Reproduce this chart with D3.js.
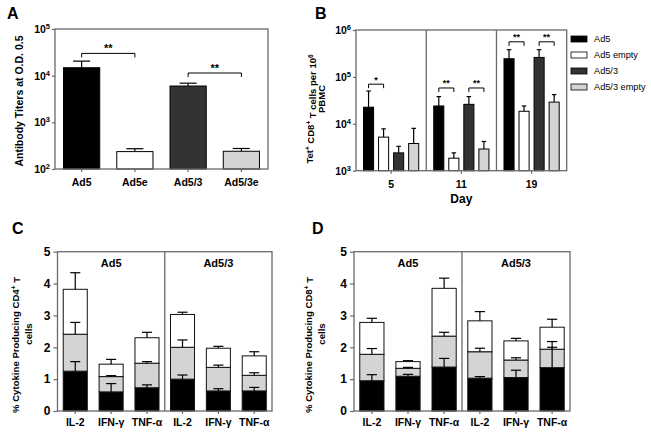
<!DOCTYPE html>
<html>
<head>
<meta charset="utf-8">
<script src="https://cdn.jsdelivr.net/npm/d3@7"></script>
<style>
  body{margin:0;background:#fff;}
  text{font-family:"Liberation Sans",Arial,Helvetica,sans-serif;fill:#000;}
</style>
</head>
<body>
<svg id="fig" width="651" height="434"></svg>
<script>
/* ---------- DATA ---------- */
/* A: antibody titers (mean, upper end of SEM bar) */
const titerGroups=["Ad5","Ad5e","Ad5/3","Ad5/3e"];
const titerMean=[14800,236,6000,240];
const titerUpper=[20500,272,6900,275];

/* B: tetramer+ CD8 T cells per 10^6 PBMC, rows = days */
const days=["5","11","19"];
const vectors=["Ad5","Ad5 empty","Ad5/3","Ad5/3 empty"];
const tetMean=[[22600,5200,2400,3800],[24000,1850,26000,2900],[244000,18500,260000,29000]];
const tetUpper=[[50000,7800,3300,8000],[38000,2400,38000,4200],[380000,24000,380000,42000]];

/* C/D: stacked cytokine producing cells, [vector][cytokine][segment] */
const cdGroups=["Ad5","Ad5/3"];
const cytokines=["IL-2","IFN-γ","TNF-α"];
const cd4Seg=[[[1.25,1.16,1.41],[0.60,0.48,0.39],[0.73,0.77,0.80]],
              [[1.00,1.00,1.03],[0.63,0.74,0.60],[0.63,0.49,0.61]]];
const cd4Sem=[[[0.30,0.37,0.52],[0.26,0.03,0.15],[0.09,0.05,0.17]],
              [[0.13,0.23,0.07],[0.07,0.07,0.06],[0.11,0.08,0.13]]];
const cd8Seg=[[[0.95,0.83,1.00],[1.09,0.25,0.21],[1.38,0.97,1.50]],
              [[1.03,0.83,0.97],[1.05,0.55,0.60],[1.36,0.58,0.69]]];
const cd8Sem=[[[0.19,0.18,0.13],[0.06,0.03,0.03],[0.27,0.12,0.32]],
              [[0.05,0.11,0.29],[0.23,0.07,0.08],[0.64,0.24,0.25]]];

/* ---------- STYLE ---------- */
const FILLS=["#000000","#ffffff","#333333","#d4d4d4"];
const SEGFILL=["#000000","#d4d4d4","#ffffff"];
const FRAME="#6a6a6a";
const FS=10.5;

const svg=d3.select("#fig");

function letter(x,y,t){
  svg.append("text").attr("x",x).attr("y",y).attr("font-size",16)
     .attr("font-weight","bold").text(t);
}
function errBar(g,cx,y0,y1,cap){
  g.append("line").attr("x1",cx).attr("x2",cx).attr("y1",y0).attr("y2",y1)
   .attr("stroke","#000").attr("stroke-width",1.2);
  g.append("line").attr("x1",cx-cap/2).attr("x2",cx+cap/2).attr("y1",y1).attr("y2",y1)
   .attr("stroke","#000").attr("stroke-width",1.2);
}
function bracket(g,x1,x2,y,label,fs){
  g.append("path").attr("d",`M${x1},${y+4}V${y}H${x2}V${y+4}`)
   .attr("fill","none").attr("stroke","#000").attr("stroke-width",1);
  g.append("text").attr("x",(x1+x2)/2).attr("y",y-1.5).attr("text-anchor","middle")
   .attr("font-size",fs).attr("font-weight","bold").text(label);
}
function styleAxis(ax){
  ax.select(".domain").remove();
  ax.selectAll(".tick line").attr("stroke",FRAME).attr("stroke-width",1.2);
  ax.selectAll("text").attr("font-size",FS).attr("font-weight","bold").attr("fill","#000");
}
function powLabels(ax){
  ax.selectAll(".tick text").each(function(d){
    const t=d3.select(this);
    t.text("10");
    t.append("tspan").attr("dy","-0.5em").attr("font-size",7.5)
     .text(Math.round(Math.log10(d)));
  });
}
function yTitle(x,y,fs,parts){
  const t=svg.append("text").attr("transform",`translate(${x},${y}) rotate(-90)`)
     .attr("text-anchor","middle").attr("font-size",fs).attr("font-weight","bold");
  parts.forEach(p=>{
    if(p.sup) t.append("tspan").attr("dy","-0.45em").attr("font-size",fs*0.68).text(p.sup);
    else t.append("tspan").attr("dy",p.back?"0.45em":0).text(p.t);
  });
}

/* ---------- A ---------- */
(function(){
  const L=55,R=268,T=29,B=169;
  const y=d3.scaleLog().domain([1e2,1e5]).range([B,T]);
  const x=d3.scaleBand().domain(titerGroups).range([L,R]).paddingInner(0.32).paddingOuter(0.16);
  const g=svg.append("g");

  titerGroups.forEach((k,i)=>{
    g.append("rect").attr("x",x(k)).attr("y",y(titerMean[i]))
     .attr("width",x.bandwidth()).attr("height",B-y(titerMean[i]))
     .attr("fill",FILLS[i]).attr("stroke","#000").attr("stroke-width",1);
    errBar(g,x(k)+x.bandwidth()/2,y(titerMean[i]),y(titerUpper[i]),x.bandwidth()*0.47);
  });

  g.append("rect").attr("x",L).attr("y",T).attr("width",R-L).attr("height",B-T)
   .attr("fill","none").attr("stroke",FRAME).attr("stroke-width",1.3);

  const ya=g.append("g").attr("transform",`translate(${L},0)`)
    .call(d3.axisLeft(y).tickValues([1e2,1e3,1e4,1e5]).tickSize(3).tickPadding(2));
  styleAxis(ya); powLabels(ya);
  const xa=g.append("g").attr("transform",`translate(0,${B})`)
    .call(d3.axisBottom(x).tickSize(3).tickPadding(7));
  styleAxis(xa);

  const c=k=>x(k)+x.bandwidth()/2;
  bracket(g,c("Ad5"),c("Ad5e"),y(30000),"**",11);
  bracket(g,c("Ad5/3"),c("Ad5/3e"),y(11400),"**",11);

  yTitle(23,101,10.5,[{t:"Antibody Titers at O.D. 0.5"}]);
  letter(7,19,"A");
})();

/* ---------- B ---------- */
(function(){
  const L=356,R=566.7,T=30,B=170.7;
  const y=d3.scaleLog().domain([1e3,1e6]).range([B,T]);
  const x0=d3.scaleBand().domain(days).range([L,R]);
  const x1=d3.scaleBand().domain(vectors).range([0,x0.bandwidth()]).paddingInner(0.33).paddingOuter(0.5);
  const g=svg.append("g");

  days.forEach((d,di)=>{
    vectors.forEach((v,vi)=>{
      const bx=x0(d)+x1(v);
      g.append("rect").attr("x",bx).attr("y",y(tetMean[di][vi]))
       .attr("width",x1.bandwidth()).attr("height",B-y(tetMean[di][vi]))
       .attr("fill",FILLS[vi]).attr("stroke","#000").attr("stroke-width",1);
      errBar(g,bx+x1.bandwidth()/2,y(tetMean[di][vi]),y(tetUpper[di][vi]),x1.bandwidth()*0.45);
    });
    if(di>0) g.append("line").attr("x1",x0(d)).attr("x2",x0(d)).attr("y1",T).attr("y2",B)
               .attr("stroke",FRAME).attr("stroke-width",1.3);
  });

  g.append("rect").attr("x",L).attr("y",T).attr("width",R-L).attr("height",B-T)
   .attr("fill","none").attr("stroke",FRAME).attr("stroke-width",1.3);

  const ya=g.append("g").attr("transform",`translate(${L},0)`)
    .call(d3.axisLeft(y).tickValues([1e3,1e4,1e5,1e6]).tickSize(3).tickPadding(2));
  styleAxis(ya); powLabels(ya);
  const xa=g.append("g").attr("transform",`translate(0,${B})`)
    .call(d3.axisBottom(x0).tickSize(3).tickPadding(7));
  styleAxis(xa);

  g.append("text").attr("x",(L+R)/2).attr("y",203).attr("text-anchor","middle")
   .attr("font-size",12).attr("font-weight","bold").text("Day");

  const c=(d,v)=>x0(d)+x1(v)+x1.bandwidth()/2;
  bracket(g,c("5","Ad5"),c("5","Ad5 empty"),y(70000),"*",9);
  bracket(g,c("11","Ad5"),c("11","Ad5 empty"),y(58000),"**",9);
  bracket(g,c("11","Ad5/3"),c("11","Ad5/3 empty"),y(58000),"**",9);
  bracket(g,c("19","Ad5"),c("19","Ad5 empty"),y(560000),"**",9);
  bracket(g,c("19","Ad5/3"),c("19","Ad5/3 empty"),y(560000),"**",9);

  /* legend */
  const lg=g.append("g").attr("transform","translate(571,39)");
  vectors.forEach((v,i)=>{
    lg.append("rect").attr("x",0).attr("y",i*16-3).attr("width",16).attr("height",6)
      .attr("fill",FILLS[i]).attr("stroke","#000").attr("stroke-width",0.8);
    lg.append("text").attr("x",23).attr("y",i*16).attr("dy","0.35em")
      .attr("font-size",9.2).text(v);
  });

  yTitle(313,109,9.5,[{t:"Tet"},{sup:"+"},{t:" CD8",back:true},{sup:"+"},{t:" T cells per 10",back:true},{sup:"6"}]);
  svg.append("text").attr("transform","translate(325,99) rotate(-90)")
     .attr("text-anchor","middle").attr("font-size",9.5).attr("font-weight","bold").text("PBMC");
  letter(315,19,"B");
})();

/* ---------- C / D ---------- */
function stacked(L,R,seg,sem,cellLabel,letterX,titleX){
  const T=251.7,B=411;
  const y=d3.scaleLinear().domain([0,5]).range([B,T]);
  const x0=d3.scaleBand().domain(cdGroups).range([L,R]);
  const x1=d3.scaleBand().domain(cytokines).range([0,x0.bandwidth()]).paddingInner(0.33).paddingOuter(0.16);
  const g=svg.append("g");

  cdGroups.forEach((grp,gi)=>{
    cytokines.forEach((ck,ci)=>{
      const bx=x0(grp)+x1(ck);
      let acc=0;
      seg[gi][ci].forEach((v,si)=>{
        g.append("rect").attr("x",bx).attr("y",y(acc+v))
         .attr("width",x1.bandwidth()).attr("height",y(acc)-y(acc+v))
         .attr("fill",SEGFILL[si]).attr("stroke","#111").attr("stroke-width",1);
        acc+=v;
      });
    });
  });
  cdGroups.forEach((grp,gi)=>{
    cytokines.forEach((ck,ci)=>{
      const cx=x0(grp)+x1(ck)+x1.bandwidth()/2;
      let acc=0;
      seg[gi][ci].forEach((v,si)=>{
        acc+=v;
        errBar(g,cx,y(acc),y(acc+sem[gi][ci][si]),x1.bandwidth()*0.42);
      });
    });
    if(gi>0) g.append("line").attr("x1",x0(grp)).attr("x2",x0(grp)).attr("y1",T).attr("y2",B)
               .attr("stroke",FRAME).attr("stroke-width",1.3);
    g.append("text").attr("x",x0(grp)+x0.bandwidth()/2).attr("y",267).attr("text-anchor","middle")
     .attr("font-size",11).attr("font-weight","bold").text(grp);
    const xa=g.append("g").attr("transform",`translate(${x0(grp)},${B})`)
      .call(d3.axisBottom(x1).tickSize(3).tickPadding(5));
    styleAxis(xa);
  });

  g.append("rect").attr("x",L).attr("y",T).attr("width",R-L).attr("height",B-T)
   .attr("fill","none").attr("stroke",FRAME).attr("stroke-width",1.3);

  const ya=g.append("g").attr("transform",`translate(${L},0)`)
    .call(d3.axisLeft(y).ticks(5).tickSize(4).tickPadding(3));
  styleAxis(ya);
  ya.selectAll("text").attr("font-size",12);

  yTitle(titleX,345,9.6,[{t:"% Cytokine Producing "+cellLabel},{sup:"+"},{t:" T",back:true}]);
  svg.append("text").attr("transform",`translate(${titleX+13},334) rotate(-90)`)
     .attr("text-anchor","middle").attr("font-size",9.6).attr("font-weight","bold").text("cells");
  letter(letterX,234,letterX<100?"C":"D");
}
stacked(57.5,272,cd4Seg,cd4Sem,"CD4",12,19);
stacked(354,570,cd8Seg,cd8Sem,"CD8",312,312);
</script>
</body>
</html>
